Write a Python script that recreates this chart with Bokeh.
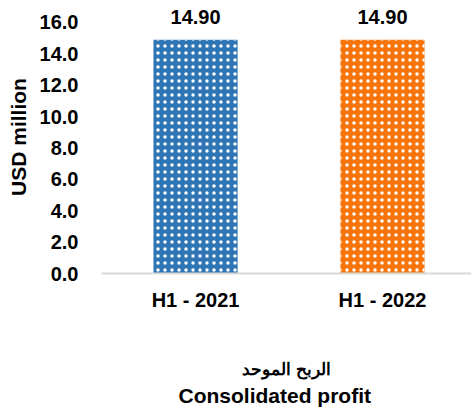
from bokeh.plotting import figure
from bokeh.models import Range1d, FixedTicker, NumeralTickFormatter, ColumnDataSource, Title
from bokeh.embed import file_html
from bokeh.resources import INLINE
from bokeh.core.properties import value

categories = ["H1 - 2021", "H1 - 2022"]
profits = [14.90, 14.90]
bar_colors = ["#2E75B6", "#F67409"]
y_ticks = [0, 2, 4, 6, 8, 10, 12, 14, 16]
y_label = "USD million"
title_ar = "الربح الموحد"
title_en = "Consolidated profit"

FONT = "Liberation Sans"
xs = list(range(len(categories)))
src = ColumnDataSource(dict(x=xs, top=profits, color=bar_colors,
                            label=[f"{v:.2f}" for v in profits]))

p = figure(width=471, height=409, output_backend="svg", toolbar_location=None,
           x_range=Range1d(-0.503, 1.476), y_range=Range1d(0, 17.4),
           min_border_left=101, min_border_right=0, min_border_top=0, min_border_bottom=136)
p.outline_line_color = None
p.grid.visible = False
p.background_fill_color = "white"
p.border_fill_color = "white"

p.vbar(x="x", top="top", width=0.45, bottom=0, source=src, fill_color="color",
       line_color=None, hatch_pattern="dot", hatch_color="white", hatch_scale=7)

p.text(x="x", y="top", text="label", source=src, text_align="center",
       text_baseline="alphabetic", y_offset=-23, text_font=value(FONT),
       text_font_size="20px", text_font_style="bold", text_color="black")

xa = p.xaxis[0]
xa.ticker = FixedTicker(ticks=xs)
xa.major_label_overrides = {i: c for i, c in enumerate(categories)}
xa.major_tick_line_color = None
xa.minor_tick_line_color = None
xa.axis_line_color = "#D9D9D9"
xa.axis_line_width = 2
xa.major_label_standoff = 9
xa.major_label_text_font = FONT
xa.major_label_text_font_size = "20px"
xa.major_label_text_font_style = "bold"
xa.major_label_text_color = "black"
xa.axis_label = title_ar
xa.axis_label_text_font = FONT
xa.axis_label_text_font_size = "17px"
xa.axis_label_text_font_style = "bold"
xa.axis_label_text_color = "black"
xa.axis_label_standoff = 46

ya = p.yaxis[0]
ya.ticker = FixedTicker(ticks=y_ticks)
ya.formatter = NumeralTickFormatter(format="0.0")
ya.axis_line_color = None
ya.major_tick_line_color = None
ya.minor_tick_line_color = None
ya.major_label_standoff = 17
ya.major_label_text_font = FONT
ya.major_label_text_font_size = "20px"
ya.major_label_text_font_style = "bold"
ya.major_label_text_color = "black"
ya.axis_label = y_label
ya.axis_label_text_font = FONT
ya.axis_label_text_font_size = "21px"
ya.axis_label_text_font_style = "bold"
ya.axis_label_text_color = "black"
ya.axis_label_standoff = 7

p.add_layout(Title(text=title_en, align="left", offset=77, text_font=FONT,
                   text_font_size="21px", text_font_style="bold", text_color="black",
                   standoff=0), "below")

open("out.html", "w").write(file_html(p, INLINE))
